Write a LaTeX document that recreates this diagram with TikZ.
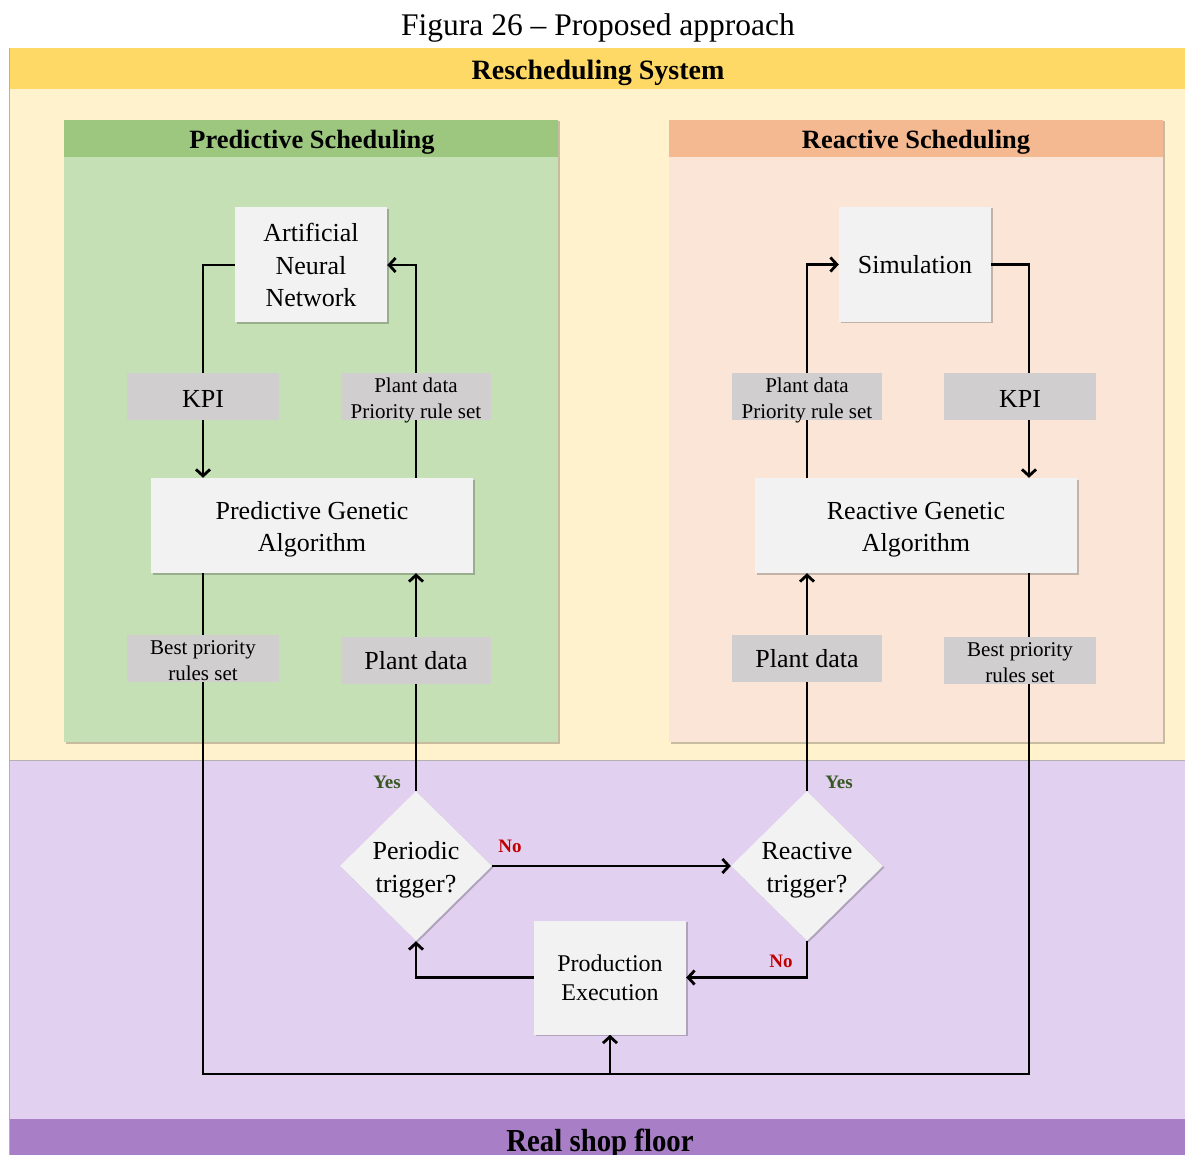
\documentclass[tikz,border=0pt]{standalone}
\usepackage{fontspec}
\setmainfont{Liberation Serif}
\usetikzlibrary{arrows.meta,shadows,shapes.geometric}

\definecolor{yhead}{HTML}{FFD966}
\definecolor{ybody}{HTML}{FFF2CC}
\definecolor{ghead}{HTML}{9DC77F}
\definecolor{gbody}{HTML}{C5E0B4}
\definecolor{ohead}{HTML}{F4B990}
\definecolor{obody}{HTML}{FBE5D6}
\definecolor{pbody}{HTML}{E1D0F0}
\definecolor{phead}{HTML}{A87FC6}
\definecolor{boxfill}{HTML}{F2F2F2}
\definecolor{tagfill}{HTML}{D0CECE}
\definecolor{yesgreen}{HTML}{385723}
\definecolor{nored}{HTML}{C00000}

% invisible struts that fix the height of a first line and the depth of a last line
\newcommand\tstrut[1]{\rule{0pt}{#1}}
\newcommand\bstrut[1]{\rule[-#1]{0pt}{#1}}

\pgfdeclarelayer{bg}
\pgfdeclarelayer{lines}
\pgfsetlayers{bg,lines,main}

\tikzset{
  softshadow/.style={drop shadow={shadow xshift=1.5pt,shadow yshift=-1.5pt,fill=black,opacity=0.22}},
  stepbox/.style={rectangle,fill=boxfill,softshadow,align=center,inner sep=0pt,
    font=\fontsize{26}{32.5}\selectfont},
  tag/.style={rectangle,fill=tagfill,align=center,inner xsep=0pt,inner ysep=-10pt,
    minimum width=152pt,minimum height=47pt},
  bigtag/.style={tag,font=\fontsize{26}{30}\selectfont},
  smalltag/.style={tag,font=\fontsize{21}{26}\selectfont},
  decision/.style={diamond,shape aspect=1,fill=boxfill,softshadow,align=center,inner xsep=0pt,inner ysep=-10pt,
    minimum width=152pt,minimum height=150pt,font=\fontsize{26}{33}\selectfont},
  panelhead/.style={font=\bfseries\fontsize{26.4}{30}\selectfont},
  conn/.style={line width=2.8pt,draw=black},
  arr/.style={conn,-{Straight Barb[length=6.5pt,width=14pt]}},
  yeslbl/.style={font=\bfseries\fontsize{19}{22}\selectfont,text=yesgreen},
  nolbl/.style={font=\bfseries\fontsize{19}{22}\selectfont,text=nored},
}

\begin{document}
\begin{tikzpicture}[x=1pt,y=-1pt]
\useasboundingbox (0,0) rectangle (1185,1155);
\clip (0,0) rectangle (1185,1155);

% ---- background regions ----
\begin{pgfonlayer}{bg}
  \fill[white] (0,0) rectangle (1185,1155);
  \fill[ybody] (9,48) rectangle (1185,760);
  \fill[yhead] (9,48) rectangle (1185,89);
  \fill[pbody] (9,760) rectangle (1185,1155);
  \fill[phead] (9,1119) rectangle (1185,1155);
  \draw[black!30,line width=0.8pt] (9,48) -- (9,1155);
  \draw[black!30,line width=0.8pt] (9,760) -- (1185,760);
  % predictive panel
  \fill[gbody,softshadow] (64,120) rectangle (558,742);
  \fill[ghead] (64,120) rectangle (558,157);
  % reactive panel
  \fill[obody,softshadow] (669,120) rectangle (1163,742);
  \fill[ohead] (669,120) rectangle (1163,157);
\end{pgfonlayer}

% ---- titles ----
\node[font=\fontsize{31.5}{36}\selectfont] (fig) at (598,28) {Figura 26 -- Proposed approach};
\node[font=\bfseries\fontsize{28}{32}\selectfont] (rs) at (598,73) {Rescheduling System};
\node[panelhead] (ps) at (312,142) {Predictive Scheduling};
\node[panelhead] (rsh) at (916,142) {Reactive Scheduling};
\node[font=\bfseries\fontsize{32}{36}\selectfont,xscale=0.9,anchor=base] (rsf) at (600,1151) {Real shop floor};

% ---- predictive side ----
\node[stepbox,minimum width=152pt,minimum height=115pt] (ann) at (311,265) {Artificial\\Neural\\Network};
\node[bigtag] (kpil) at (203,396.5) {\tstrut{21pt}KPI};
\node[smalltag,minimum width=150pt] (pdl1) at (416,396.5) {\tstrut{23pt}Plant data\\Priority rule set\bstrut{5pt}};
\node[stepbox,minimum width=322pt,minimum height=95pt] (pga) at (312,525.5) {\tstrut{26pt}Predictive Genetic\\Algorithm\bstrut{6pt}};
\node[smalltag] (bpl) at (203,658.5) {\tstrut{23pt}Best priority\\rules set\bstrut{5pt}};
\node[bigtag,minimum width=150pt] (pdl2) at (416,660.5) {Plant data};

% ---- reactive side ----
\node[stepbox,minimum width=152pt,minimum height=115pt] (sim) at (915,264.5) {Simulation};
\node[smalltag,minimum width=150pt] (pdr1) at (807,396.5) {\tstrut{23pt}Plant data\\Priority rule set\bstrut{5pt}};
\node[bigtag] (kpir) at (1020,396.5) {\tstrut{21pt}KPI};
\node[stepbox,minimum width=322pt,minimum height=95pt] (rga) at (916,525.5) {\tstrut{26pt}Reactive Genetic\\Algorithm\bstrut{6pt}};
\node[bigtag,minimum width=150pt] (pdr2) at (807,658.5) {Plant data};
\node[smalltag] (bpr) at (1020,660.5) {\tstrut{23pt}Best priority\\rules set\bstrut{5pt}};
\coordinate (rc) at (1029,265);

% ---- shop floor ----
\node[decision] (pt) at (416,866) {\tstrut{26pt}Periodic\\trigger?\bstrut{6pt}};
\node[decision] (rt) at (807,866) {\tstrut{26pt}Reactive\\trigger?\bstrut{6pt}};
\node[stepbox,minimum width=152pt,minimum height=114pt,font=\fontsize{24}{29}\selectfont] (pe) at (610,977.5) {Production\\Execution};
\coordinate (bl) at (203,1074);
\coordinate (br) at (1029,1074);

\node[yeslbl] (y1) at (387,782) {Yes};
\node[yeslbl] (y2) at (839,782) {Yes};
\node[nolbl] (n1) at (510,846) {No};
\node[nolbl] (n2) at (781,961) {No};

% ---- connectors ----
\begin{pgfonlayer}{lines}
  \draw[arr] (ann.west) -| (pga.north -| kpil.center);
  \draw[arr] (pga.north -| pdl1.center) |- (ann.east);
  \draw[arr] (pt.north) -- (pga.south -| pt.north);
  \draw[arr] (sim.east) -| (rga.north -| rc);
  \draw[arr] (rga.north -| pdr1.center) |- (sim.west);
  \draw[arr] (rt.north) -- (rga.south -| rt.north);
  \draw[conn] (pga.south -| bl) -- (bl) -- (br) -- (rga.south -| br);
  \draw[arr] (pe.south |- bl) -- (pe.south);
  \draw[arr] (pt.east) -- (rt.west);
  \draw[arr] (rt.south) |- (pe.east);
  \draw[arr] (pe.west) -| (pt.south);
\end{pgfonlayer}
\end{tikzpicture}
\end{document}
